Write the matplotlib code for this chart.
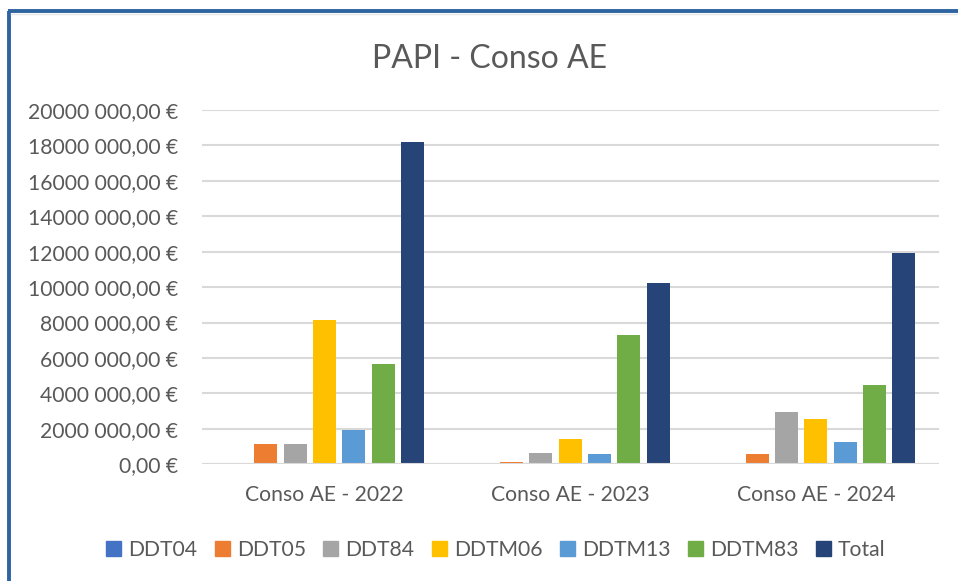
import matplotlib
matplotlib.use("Agg")
import matplotlib.pyplot as plt
import numpy as np
from matplotlib.patches import Rectangle
from matplotlib.lines import Line2D

plt.rcParams['font.family'] = ['Lato', 'DejaVu Sans']

categories = ["Conso AE - 2022", "Conso AE - 2023", "Conso AE - 2024"]
series_names = ["DDT04", "DDT05", "DDT84", "DDTM06", "DDTM13", "DDTM83", "Total"]
DDT04 = [0, 0, 100000]
DDT05 = [1160000, 150000, 580000]
DDT84 = [1160000, 660000, 2950000]
DDTM06 = [8150000, 1430000, 2580000]
DDTM13 = [1950000, 580000, 1240000]
DDTM83 = [5650000, 7300000, 4450000]
Total = [18200000, 10250000, 11950000]
series_values = [DDT04, DDT05, DDT84, DDTM06, DDTM13, DDTM83, Total]
colors = ["#4472C4", "#ED7D31", "#A5A5A5", "#FFC000", "#5B9BD5", "#70AD47", "#264478"]
tick_values = [0, 2000000, 4000000, 6000000, 8000000, 10000000, 12000000,
               14000000, 16000000, 18000000, 20000000]
tick_labels = ["0,00 €", "2000 000,00 €", "4000 000,00 €", "6000 000,00 €",
               "8000 000,00 €", "10000 000,00 €", "12000 000,00 €",
               "14000 000,00 €", "16000 000,00 €", "18000 000,00 €",
               "20000 000,00 €"]

W, H = 958, 581
fig = plt.figure(figsize=(W / 100, H / 100), dpi=100)
ax = fig.add_axes([201.7 / W, 1 - 464.3 / H, 737 / W, (464.3 - 109.9) / H])

x = np.arange(len(categories))
pitch = 0.1193
bw = 0.094
n = len(series_names)
for i, (name, vals, c) in enumerate(zip(series_names, series_values, colors)):
    ax.bar(x + (i - (n - 1) / 2) * pitch, vals, width=bw, color=c, label=name, zorder=3)

ax.set_xlim(-0.5, 2.5)
ax.set_ylim(0, 20000000)
ax.set_yticks(tick_values)
ax.set_yticklabels(tick_labels)
ax.set_xticks(x)
ax.set_xticklabels(categories)
ax.tick_params(axis='y', length=0, labelsize=15.2, colors='#595959', pad=17)
ax.tick_params(axis='x', length=0, labelsize=15.2, colors='#595959', pad=15)
for s in ax.spines.values():
    s.set_visible(False)
ax.grid(axis='y', color='#D9D9D9', linewidth=1.5, zorder=0)
ax.set_axisbelow(True)
ax.axhline(0, color='#D9D9D9', linewidth=1.5, zorder=4)

fig.text(490 / W, 1 - 58.5 / H, "PAPI - Conso AE", ha='center', va='center',
         fontsize=23, color='#595959')

handles = [Rectangle((0, 0), 1, 1, color=c) for c in colors]
fig.legend(handles, series_names, loc='center', bbox_to_anchor=(496 / W, 1 - 549.5 / H),
           ncol=7, frameon=False, fontsize=15.2, labelcolor='#595959',
           handlelength=0.7, handleheight=0.7, handletextpad=0.35, columnspacing=0.82)

# blue frame (left and top)
fig.add_artist(Line2D([9.3 / W, 9.3 / W], [0, 1 - 11.3 / H], color='#2E64A0',
                      linewidth=2.8, transform=fig.transFigure, solid_capstyle='butt'))
fig.add_artist(Line2D([7.5 / W, 1], [1 - 11.3 / H, 1 - 11.3 / H], color='#2E64A0',
                      linewidth=2.8, transform=fig.transFigure, solid_capstyle='butt'))
fig.add_artist(Line2D([11 / W, 1], [1 - 14 / H, 1 - 14 / H], color='#E6E6E6',
                      linewidth=1.0, transform=fig.transFigure))

fig.savefig("out.png", dpi=100)
